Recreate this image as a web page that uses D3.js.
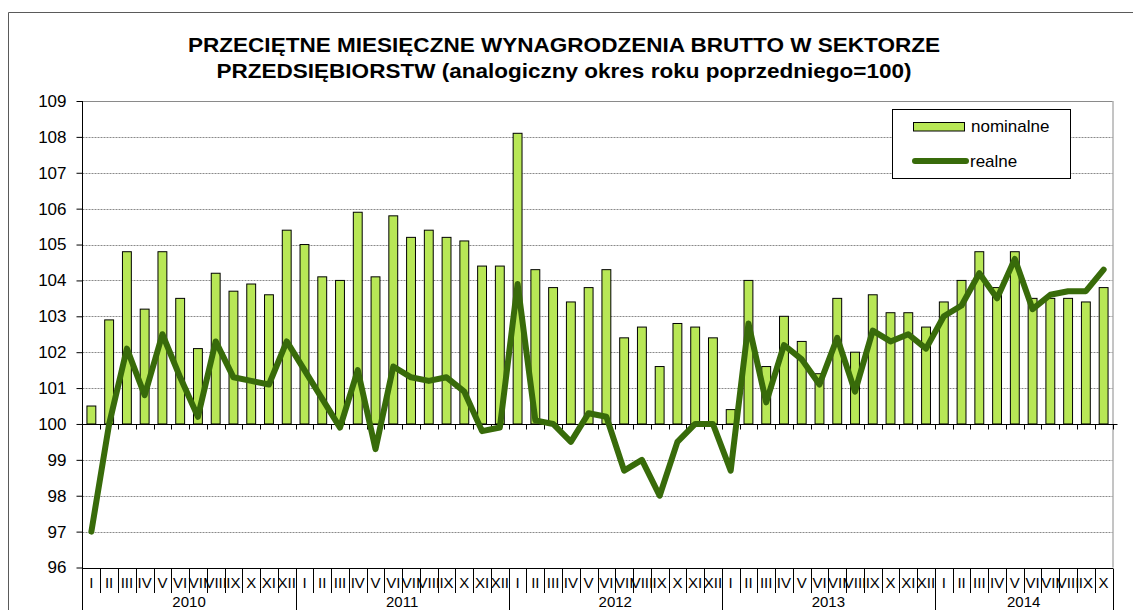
<!DOCTYPE html>
<html>
<head>
<meta charset="utf-8">
<script src="https://cdn.jsdelivr.net/npm/d3@7"></script>
<style>
  html, body { margin: 0; padding: 0; background: #fff; }
  svg { display: block; }
  text { font-family: "Liberation Sans", Arial, sans-serif; fill: #000; }
</style>
</head>
<body>
<svg id="chart" width="1133" height="610"></svg>
<script>
// ---------- DATA ----------
const years = ["2010", "2011", "2012", "2013", "2014"];
const monthsPerYear = [12, 12, 12, 12, 10];
const monthLabels = ["I","II","III","IV","V","VI","VII","VIII","IX","X","XI","XII"];

const nominalne = [
  100.5, 102.9, 104.8, 103.2, 104.8, 103.5, 102.1, 104.2, 103.7, 103.9, 103.6, 105.4,
  105.0, 104.1, 104.0, 105.9, 104.1, 105.8, 105.2, 105.4, 105.2, 105.1, 104.4, 104.4,
  108.1, 104.3, 103.8, 103.4, 103.8, 104.3, 102.4, 102.7, 101.6, 102.8, 102.7, 102.4,
  100.4, 104.0, 101.6, 103.0, 102.3, 101.4, 103.5, 102.0, 103.6, 103.1, 103.1, 102.7,
  103.4, 104.0, 104.8, 103.8, 104.8, 103.5, 103.5, 103.5, 103.4, 103.8
];
const realne = [
  97.0, 100.0, 102.1, 100.8, 102.5, 101.3, 100.2, 102.3, 101.3, 101.2, 101.1, 102.3,
  101.5, 100.7, 99.9, 101.5, 99.3, 101.6, 101.3, 101.2, 101.3, 100.9, 99.8, 99.9,
  103.9, 100.1, 100.0, 99.5, 100.3, 100.2, 98.7, 99.0, 98.0, 99.5, 100.0, 100.0,
  98.7, 102.8, 100.6, 102.2, 101.8, 101.1, 102.4, 100.9, 102.6, 102.3, 102.5, 102.1,
  103.0, 103.3, 104.2, 103.5, 104.6, 103.2, 103.6, 103.7, 103.7, 104.3
];
const yTicks = [96, 97, 98, 99, 100, 101, 102, 103, 104, 105, 106, 107, 108, 109];
const titleLines = [
  "PRZECIĘTNE MIESIĘCZNE WYNAGRODZENIA BRUTTO W SEKTORZE",
  "PRZEDSIĘBIORSTW (analogiczny okres roku poprzedniego=100)"
];
const seriesNames = ["nominalne", "realne"];

// ---------- LAYOUT ----------
const plot = { left: 82.5, right: 1112.5, top: 101, bottom: 567.5 };
const barColor = "#b8e756";
const lineColor = "#386b0a";

const svg = d3.select("#chart");

// categories
const cats = [];
years.forEach((yr, yi) => {
  for (let m = 0; m < monthsPerYear[yi]; m++) cats.push({ year: yr, month: monthLabels[m] });
});
const idx = d3.range(cats.length);

const x = d3.scaleBand().domain(idx).range([plot.left, plot.right]).padding(0);
const bw = x.bandwidth();
const y = d3.scaleLinear().domain([96, 109]).range([plot.bottom, plot.top]);

// outer chart border
svg.append("path")
  .attr("d", `M8.5,610 L8.5,12.5 L1133,12.5`)
  .attr("fill", "none").attr("stroke", "#5a5a5a").attr("stroke-width", 1);

// title
titleLines.forEach((t, i) => {
  svg.append("text")
    .attr("x", 564).attr("y", 52 + i * 26)
    .attr("text-anchor", "middle")
    .attr("font-size", 20).attr("font-weight", "bold")
    .attr("textLength", i === 0 ? 752 : 695)
    .attr("lengthAdjust", "spacingAndGlyphs")
    .text(t);
});

// gridlines
svg.append("g").selectAll("line")
  .data(yTicks.filter(v => v !== 100 && v !== 96))
  .join("line")
  .attr("x1", plot.left).attr("x2", plot.right)
  .attr("y1", d => Math.round(y(d)) + 0.5).attr("y2", d => Math.round(y(d)) + 0.5)
  .attr("stroke", "#8a8a8a").attr("stroke-width", 1)
  .attr("stroke-dasharray", d => d === 109 ? null : "2,1");

// right plot border
svg.append("line")
  .attr("x1", plot.right + 0.5).attr("x2", plot.right + 0.5)
  .attr("y1", plot.top).attr("y2", plot.bottom)
  .attr("stroke", "#8a8a8a").attr("stroke-width", 1);

// bars
svg.append("g").selectAll("rect")
  .data(idx)
  .join("rect")
  .attr("x", i => x(i) + bw * 0.25)
  .attr("width", bw * 0.5)
  .attr("y", i => y(nominalne[i]))
  .attr("height", i => y(100) - y(nominalne[i]))
  .attr("fill", barColor)
  .attr("stroke", "#000").attr("stroke-width", 1);

// y axis
const yAxis = d3.axisLeft(y).tickValues(yTicks).tickSize(6).tickPadding(10).tickFormat(d3.format("d"));
const gy = svg.append("g").attr("transform", `translate(${plot.left},0)`).call(yAxis);
gy.select(".domain").remove();
gy.selectAll(".tick line").attr("stroke", "#000");
gy.selectAll(".tick text").attr("font-size", 17).attr("font-family", "Liberation Sans, Arial, sans-serif").attr("fill", "#000");
svg.append("line")
  .attr("x1", plot.left).attr("x2", plot.left)
  .attr("y1", plot.top).attr("y2", 610)
  .attr("stroke", "#000").attr("stroke-width", 1);

// category axis at 100 with small ticks
const y100 = Math.round(y(100)) + 0.5;
svg.append("line")
  .attr("x1", plot.left).attr("x2", plot.right + 5)
  .attr("y1", y100).attr("y2", y100)
  .attr("stroke", "#000").attr("stroke-width", 1);
const boundaries = d3.range(1, cats.length + 1).map(i => i < cats.length ? x(i) : plot.right);
svg.append("g").selectAll("line")
  .data(boundaries)
  .join("line")
  .attr("x1", d => Math.round(d) + 0.5).attr("x2", d => Math.round(d) + 0.5)
  .attr("y1", y100).attr("y2", y100 + 5)
  .attr("stroke", "#000").attr("stroke-width", 1);

// bottom axis line
const yb = Math.round(plot.bottom) + 0.5;
svg.append("line")
  .attr("x1", plot.left).attr("x2", plot.right + 0.5)
  .attr("y1", yb).attr("y2", yb)
  .attr("stroke", "#000").attr("stroke-width", 1);

// month separators and labels
const yearStarts = [];
let acc = 0;
monthsPerYear.forEach(n => { yearStarts.push(acc); acc += n; });
yearStarts.push(acc);
svg.append("g").selectAll("line")
  .data(d3.range(1, cats.length + 1))
  .join("line")
  .attr("x1", i => Math.round(i < cats.length ? x(i) : plot.right) + 0.5)
  .attr("x2", i => Math.round(i < cats.length ? x(i) : plot.right) + 0.5)
  .attr("y1", yb)
  .attr("y2", i => yearStarts.includes(i) ? 610 : 593)
  .attr("stroke", "#000").attr("stroke-width", 1);

svg.append("g").selectAll("text")
  .data(idx)
  .join("text")
  .attr("x", i => x(i) + bw / 2)
  .attr("y", 588)
  .attr("text-anchor", "middle")
  .attr("font-size", 15)
  .text(i => cats[i].month);

svg.append("g").selectAll("text")
  .data(years)
  .join("text")
  .attr("x", (d, k) => {
    const a = x(yearStarts[k]);
    const e = yearStarts[k + 1] < cats.length ? x(yearStarts[k + 1]) : plot.right;
    return (a + e) / 2;
  })
  .attr("y", 607)
  .attr("text-anchor", "middle")
  .attr("font-size", 15)
  .text(d => d);

// line realne
const line = d3.line()
  .x(i => x(i) + bw / 2)
  .y(i => y(realne[i]));
svg.append("path")
  .datum(idx)
  .attr("d", line)
  .attr("fill", "none")
  .attr("stroke", lineColor)
  .attr("stroke-width", 6)
  .attr("stroke-linejoin", "round")
  .attr("stroke-linecap", "round");

// legend
const lg = svg.append("g");
lg.append("rect")
  .attr("x", 892.5).attr("y", 109.5).attr("width", 178).attr("height", 69)
  .attr("fill", "#fff").attr("stroke", "#000").attr("stroke-width", 1);
lg.append("rect")
  .attr("x", 913.5).attr("y", 122.5).attr("width", 51).attr("height", 8.5)
  .attr("fill", barColor).attr("stroke", "#000").attr("stroke-width", 1);
lg.append("text").attr("x", 971).attr("y", 132).attr("font-size", 17).text(seriesNames[0]);
lg.append("line")
  .attr("x1", 915).attr("x2", 966).attr("y1", 161).attr("y2", 161)
  .attr("stroke", lineColor).attr("stroke-width", 6).attr("stroke-linecap", "round");
lg.append("text").attr("x", 970).attr("y", 167).attr("font-size", 17).text(seriesNames[1]);
</script>
</body>
</html>
